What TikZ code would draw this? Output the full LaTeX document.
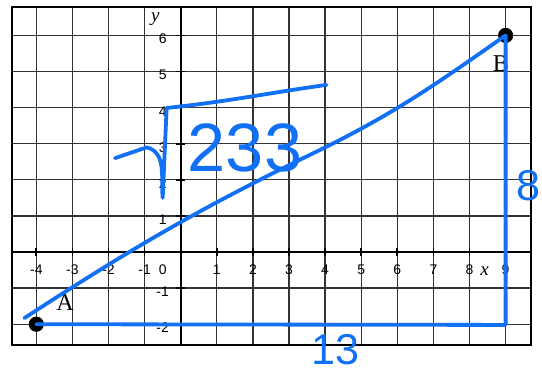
\documentclass[tikz,border=0pt]{standalone}
\usepackage{fontspec}
\setmainfont{Liberation Serif}
\setsansfont{Liberation Sans}
\definecolor{pen}{RGB}{18,112,245}
\begin{document}
\begin{tikzpicture}[x=1cm,y=1cm,
  gridline/.style={black!80,line width=1pt},
  axisline/.style={black,line width=1.3pt},
  hand/.style={pen,line width=3pt,line cap=round,line join=round},
  ticklabel/.style={font=\sffamily\fontsize{11}{11}\selectfont,inner sep=0pt},
  pointlabel/.style={font=\fontsize{19}{19}\selectfont,inner sep=0pt},
  handtext/.style={pen,font=\sffamily\fontsize{#1}{#1}\selectfont,inner sep=0pt}]
\useasboundingbox (-5.006,-3.324) rectangle (10.008,6.981);

\foreach \i in {-4,...,9} \draw[gridline] (\i,-2.576) -- (\i,6.787);
\foreach \j in {-2,...,6} \draw[gridline] (-4.673,\j) -- (9.704,\j);
\draw[axisline] (-4.673,0) -- (9.704,0);
\draw[axisline] (0,-2.576) -- (0,6.787);
\foreach \i in {-4,...,9} \draw[axisline] (\i,-0.1) -- (\i,0.1);
\foreach \j in {-2,...,6} \draw[axisline] (-0.12,\j) -- (0.12,\j);
\draw[black,line width=1.6pt] (-4.673,-2.576) rectangle (9.704,6.787);

\foreach \i in {-4,-3,-2,-1,1,2,3,4,5,6,7,8,9}
  \node[ticklabel] (xl\i) at (\i,-0.5) {\i};
\node[ticklabel] (xl0) at (-0.5,-0.5) {0};
\foreach \j in {-2,-1,1,2,3,4,5,6}
  \node[ticklabel] (yl\j) at (-0.5,\j-0.1) {\j};
\node[pointlabel,font=\itshape\fontsize{15}{15}\selectfont] (xname) at (8.42,-0.52) {x};
\node[pointlabel,font=\itshape\fontsize{15}{15}\selectfont] (yname) at (-0.7,6.45) {y};

\coordinate (A) at (-4,-2);
\coordinate (B) at (9,6);
\fill (A) circle (0.21);
\fill (B) circle (0.21);
\node[pointlabel] (labA) at (-3.2,-1.4) {A};
\node[pointlabel] (labB) at (8.87,5.22) {B};

\coordinate (H) at (-4.33,-1.83);
\coordinate (M) at (3.74,2.77);
\coordinate (C) at (9.0,-2.02);
\draw[hand] (H) to[out=33,in=206] (M) to[out=26,in=215] (B);
\draw[hand] (A) -- (C) -- (B);

\coordinate (r1) at (-1.82,2.60);
\coordinate (r2) at (-0.94,2.90);
\coordinate (r3) at (-0.50,1.50);
\coordinate (r4) at (-0.39,3.99);
\coordinate (r5) at (4.04,4.63);
\draw[hand] (r1) -- (r2) to[out=-15,in=95] (r3) -- (r4) to[out=6,in=188] (r5);
\node[handtext=54] (root) at (1.78,2.88) {233};
\node[handtext=34] (base) at (4.28,-2.7) {13};
\node[handtext=34] (side) at (9.63,1.85) {8};
\end{tikzpicture}
\end{document}
